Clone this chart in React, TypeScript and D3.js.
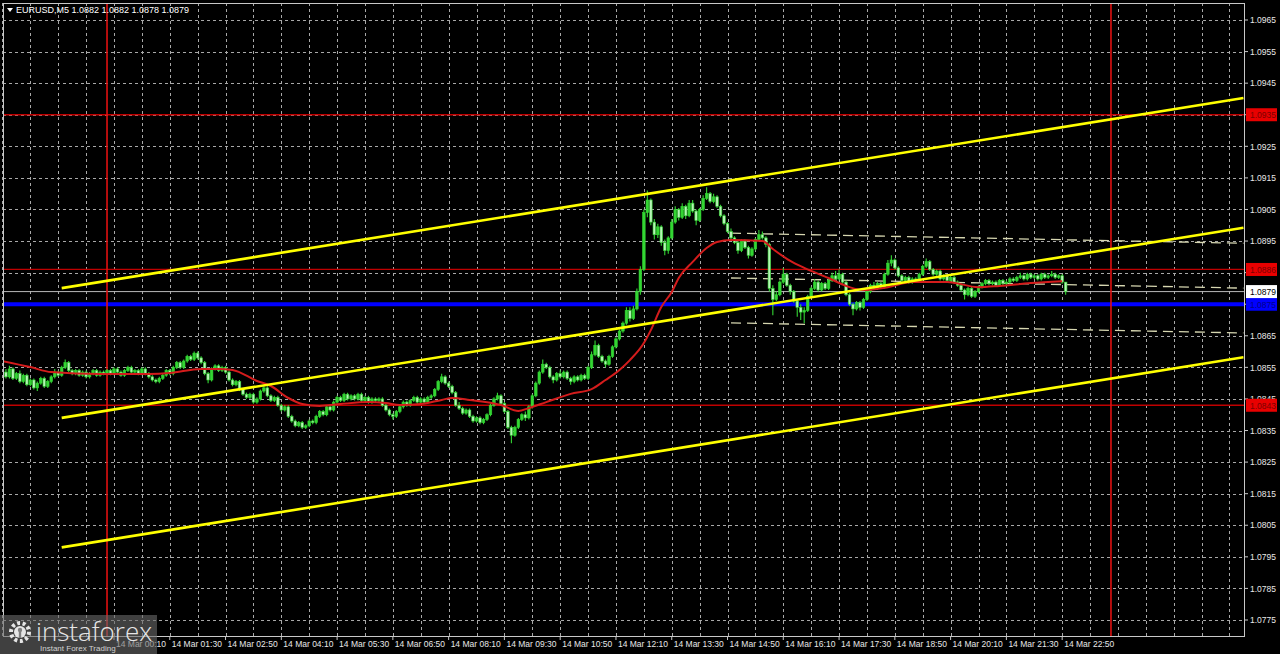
import React from "react";
import * as d3 from "d3";

// ---------- DATA ----------
const symbolTitle = "EURUSD,M5";
const titleOHLC = ["1.0882", "1.0882", "1.0878", "1.0879"];

// 5-minute bars; prices stored as pips above 1.0800
const PRICE_BASE = 1.08;
const PIP = 0.0001;
const firstBarTime = "2024-03-13T21:30:00";
const barMinutes = 5;
const firstOpenPips = 54.0;

const closePips = [
  53.5, 52.0, 54.5, 51.5, 53.0, 50.5, 52.5, 49.5, 51.0, 48.5,
  50.0, 51.5, 49.0, 50.5, 52.0, 53.5, 52.5, 55.0, 56.5, 54.0,
  53.0, 54.0, 52.5, 53.5, 52.0, 53.0, 54.0, 52.5, 53.5, 53.0,
  54.0, 53.0, 54.5, 53.5, 52.5, 54.0, 55.0, 53.5, 54.0, 53.0,
  54.5, 53.0, 52.0, 51.0, 50.5, 51.5, 52.5, 54.0, 53.0, 55.0,
  56.5, 55.0, 57.0, 58.5, 57.5, 59.5, 58.0, 56.5, 53.0, 51.0,
  54.5, 55.5, 54.0, 55.0, 53.5, 51.0, 49.5, 50.5, 48.0, 46.5,
  45.5, 46.5, 44.0, 45.0, 47.5, 48.5, 46.0, 44.5, 45.5, 43.0,
  41.5, 42.5, 39.5, 38.0, 36.5, 37.5, 36.0, 36.5, 38.0, 37.5,
  39.5, 41.0, 40.0, 42.5, 41.5, 44.0, 45.5, 44.5, 46.5, 45.0,
  46.0, 45.0, 46.5, 44.5, 45.5, 44.0, 45.0, 44.5, 45.0, 43.0,
  41.5, 40.0, 39.5, 41.0, 42.5, 44.0, 43.0, 44.5, 45.5, 44.0,
  45.0, 44.0, 45.5, 46.0, 48.0, 50.5, 52.0, 50.0, 49.0, 47.0,
  43.0, 42.0, 40.5, 41.5, 39.5, 38.0, 39.0, 37.5, 38.5, 40.0,
  43.0, 45.0, 46.0, 43.5, 41.0, 36.0, 33.5, 36.0, 38.5, 40.0,
  39.0, 42.5, 46.0, 50.0, 53.5, 56.0, 55.0, 52.0, 51.0, 53.0,
  52.0, 53.5, 51.5, 50.5, 52.0, 51.0, 52.5, 51.5, 55.0, 59.0,
  62.0, 58.5, 57.0, 56.0, 58.5, 61.5, 64.0, 66.5, 69.0, 73.0,
  70.5, 73.5, 79.0, 86.0, 104.0, 108.0, 101.0, 97.0, 99.5, 94.5,
  92.0, 96.0, 101.0, 105.0, 102.5, 106.0, 103.0, 107.0, 104.5, 101.5,
  105.0, 108.5, 110.0, 107.5, 109.0, 106.0, 103.0, 100.5, 98.0, 96.0,
  94.5, 92.0, 95.0, 93.0, 90.5, 92.5, 95.5, 97.0, 96.0, 94.0,
  80.0, 76.5, 78.0, 82.0, 84.5, 81.0, 79.0, 76.0, 74.0, 72.5,
  73.0, 77.5, 80.0, 82.0, 79.5, 81.5, 80.0, 82.5, 84.0, 83.0,
  84.5, 82.0, 78.0, 75.0, 73.5, 75.5, 74.0, 76.5, 79.0, 81.0,
  80.0, 81.5, 80.5, 84.5, 88.0, 89.0, 86.5, 84.0, 82.5, 83.5,
  82.0, 83.0, 82.5, 84.5, 87.0, 88.5, 86.0, 84.5, 85.5, 83.0,
  84.0, 82.5, 83.5, 82.0, 81.0, 79.5, 78.0, 80.0, 77.5, 79.0,
  80.5, 81.5, 82.5, 81.5, 82.0, 81.0, 82.5, 81.5, 82.0, 83.0,
  82.5, 83.5, 84.0, 83.0, 84.5, 83.5, 84.0, 83.0, 84.5, 83.5,
  84.0, 84.5, 83.5, 84.0, 82.0, 79.0,
];

const highPips = [
  55.0, 54.5, 55.5, 55.0, 53.5, 54.0, 53.0, 53.0, 51.5, 51.5,
  50.5, 52.0, 52.0, 51.0, 52.5, 54.5, 54.0, 55.5, 57.5, 57.0,
  54.5, 54.5, 54.5, 54.0, 54.0, 53.5, 54.5, 54.5, 54.0, 54.0,
  54.5, 54.5, 55.0, 55.0, 54.0, 54.5, 55.5, 55.5, 54.5, 54.5,
  55.0, 55.0, 53.5, 52.5, 51.5, 52.0, 53.0, 54.5, 54.5, 55.5,
  57.0, 57.0, 57.5, 59.0, 59.0, 60.0, 60.0, 58.5, 57.0, 53.5,
  55.0, 56.0, 56.0, 55.5, 55.5, 54.0, 51.5, 51.0, 51.0, 48.5,
  47.0, 47.0, 47.0, 45.5, 48.0, 49.5, 49.0, 46.5, 46.0, 46.0,
  43.5, 43.0, 43.0, 40.0, 38.5, 38.0, 38.0, 37.0, 38.5, 38.5,
  40.0, 41.5, 41.5, 43.0, 43.0, 44.5, 46.0, 46.0, 47.0, 47.0,
  46.5, 46.5, 47.0, 47.0, 46.0, 46.0, 45.5, 45.5, 45.5, 45.5,
  43.5, 42.0, 40.5, 41.5, 43.0, 44.5, 44.5, 45.0, 46.0, 46.0,
  45.5, 45.5, 46.0, 46.5, 48.5, 51.0, 53.0, 52.5, 50.5, 49.5,
  47.5, 44.0, 42.5, 42.0, 42.0, 40.0, 39.5, 39.5, 39.0, 40.5,
  43.5, 45.5, 47.0, 46.5, 44.0, 41.5, 36.5, 36.5, 39.0, 40.5,
  41.0, 43.0, 46.5, 50.5, 54.0, 57.5, 56.5, 55.5, 52.5, 53.5,
  54.0, 54.0, 54.0, 52.0, 52.5, 52.5, 53.0, 53.0, 55.5, 60.0,
  63.5, 62.5, 59.0, 57.5, 59.0, 62.0, 64.5, 67.0, 69.5, 74.0,
  74.0, 74.5, 80.0, 87.0, 105.0, 111.0, 108.5, 102.0, 100.5, 100.0,
  95.5, 96.5, 102.0, 106.0, 105.5, 107.0, 106.5, 108.0, 108.0, 105.0,
  105.5, 109.5, 112.0, 110.5, 110.0, 109.5, 106.5, 103.5, 101.0, 99.0,
  96.5, 95.0, 95.5, 95.5, 93.5, 93.0, 96.0, 98.5, 98.0, 96.5,
  94.5, 81.0, 79.0, 82.5, 86.5, 85.0, 81.5, 79.5, 76.5, 75.0,
  74.0, 78.0, 80.5, 83.0, 82.5, 82.0, 82.0, 83.0, 85.0, 85.5,
  86.0, 85.0, 82.5, 78.5, 75.5, 76.0, 76.0, 77.0, 79.5, 81.5,
  82.0, 82.0, 82.0, 85.0, 89.0, 90.5, 89.5, 87.0, 84.5, 84.0,
  84.0, 83.5, 83.5, 85.0, 87.5, 89.5, 89.0, 86.5, 86.0, 86.0,
  84.5, 84.5, 84.0, 84.0, 82.5, 81.5, 80.0, 80.5, 80.5, 79.5,
  81.0, 82.0, 83.0, 83.0, 82.5, 82.5, 83.0, 83.0, 82.5, 83.5,
  83.5, 84.0, 85.0, 84.5, 85.0, 85.0, 84.5, 84.5, 85.0, 85.0,
  84.5, 85.5, 85.0, 84.5, 84.5, 82.0,
];

const lowPips = [
  53.0, 51.5, 51.5, 51.0, 51.0, 50.0, 50.0, 49.0, 49.0, 48.0,
  47.5, 49.5, 48.5, 48.5, 50.0, 51.5, 52.0, 52.0, 54.5, 53.5,
  52.5, 52.5, 52.0, 52.0, 51.5, 51.5, 52.5, 52.0, 52.0, 52.5,
  52.5, 52.5, 52.5, 53.0, 52.0, 52.0, 53.5, 53.0, 53.0, 52.5,
  52.5, 52.5, 51.5, 50.5, 50.0, 50.0, 51.0, 52.0, 52.5, 52.5,
  54.5, 54.5, 54.5, 56.5, 57.0, 57.0, 57.5, 56.0, 52.5, 50.0,
  50.5, 54.0, 53.5, 53.5, 53.0, 50.5, 49.0, 49.0, 47.5, 46.0,
  45.0, 45.0, 43.5, 43.5, 44.5, 47.0, 45.5, 44.0, 44.0, 42.5,
  41.0, 41.0, 39.0, 37.5, 36.0, 36.0, 35.5, 35.5, 36.0, 37.0,
  37.0, 39.0, 39.5, 39.5, 41.0, 41.0, 43.5, 44.0, 44.0, 44.5,
  44.5, 44.5, 44.5, 44.0, 44.0, 43.5, 43.5, 44.0, 44.0, 42.5,
  41.0, 39.5, 38.5, 39.0, 40.5, 42.0, 42.5, 42.5, 44.0, 43.5,
  43.5, 43.5, 43.5, 45.0, 45.5, 47.5, 50.0, 49.5, 48.5, 46.5,
  42.5, 41.5, 40.0, 40.0, 39.0, 37.5, 37.5, 37.0, 37.0, 38.0,
  39.5, 42.5, 44.5, 43.0, 40.5, 35.5, 31.0, 33.0, 35.5, 38.0,
  38.0, 38.5, 42.0, 45.5, 49.5, 53.0, 54.5, 51.5, 50.0, 50.5,
  51.5, 51.5, 51.0, 49.5, 50.0, 50.5, 50.5, 51.0, 51.0, 54.5,
  58.5, 58.0, 56.5, 55.0, 55.5, 58.0, 61.0, 63.5, 66.0, 68.5,
  69.5, 70.0, 73.0, 78.0, 85.5, 102.5, 100.0, 95.5, 96.0, 93.5,
  90.5, 91.0, 95.5, 100.5, 101.5, 102.0, 102.0, 102.5, 104.0, 100.0,
  101.0, 104.5, 108.0, 107.0, 107.0, 105.5, 102.5, 100.0, 97.5, 95.0,
  94.0, 91.0, 91.5, 92.5, 89.5, 90.0, 92.0, 95.0, 95.5, 93.0,
  79.0, 71.5, 76.0, 77.5, 81.5, 80.5, 78.0, 75.5, 71.0, 70.0,
  69.0, 72.5, 77.0, 79.5, 79.0, 79.0, 79.5, 79.5, 82.0, 82.5,
  82.5, 81.5, 77.5, 74.5, 71.5, 73.0, 73.0, 73.5, 76.0, 78.5,
  79.5, 79.5, 80.0, 80.0, 84.0, 87.0, 86.0, 83.5, 82.0, 82.0,
  81.5, 81.5, 82.0, 82.0, 84.0, 86.5, 85.5, 84.0, 84.0, 82.5,
  82.5, 82.0, 82.0, 81.5, 80.5, 79.0, 76.5, 77.5, 77.0, 77.0,
  78.5, 80.0, 81.0, 81.0, 81.0, 80.5, 80.5, 81.0, 81.0, 81.5,
  82.0, 82.0, 83.0, 82.5, 82.5, 83.0, 83.0, 82.5, 82.5, 83.0,
  83.0, 83.5, 83.0, 83.0, 81.5, 78.0,
];

// Moving average (red) read at bar positions counted from 14 Mar 00:00
const maDayStart = "2024-03-14T00:00:00";
const maBarIndex = [
  -30, -22, -16, -2, 12, 18, 27, 32, 36, 43, 47, 52, 56, 61, 67, 75, 80, 84, 90, 96,
  99, 104, 113, 118, 121, 126, 133, 139, 143, 147, 150, 154, 156, 159, 162, 164, 168,
  172, 175, 179, 188, 191, 196, 200, 207, 213, 217, 224, 231, 241, 250, 256, 265, 274,
];
const maPips = [
  57.0, 55.1, 53.5, 52.9, 52.9, 53.2, 54.5, 54.5, 54.2, 50.7, 49.1, 45.3, 43.4, 42.8, 43.4, 44.0, 43.7, 43.1, 43.4, 44.7,
  45.3, 44.7, 43.1, 41.2, 42.1, 44.0, 46.6, 48.1, 51.0, 54.2, 57.3, 62.7, 66.8, 74.1, 78.9, 83.3, 88.4,
  92.8, 94.7, 95.3, 95.0, 92.5, 88.7, 86.5, 83.3, 80.4, 79.5, 80.4, 82.0, 82.0, 80.4, 80.8, 81.7, 82.3,
];

const priceTicks = [
  1.0775, 1.0785, 1.0795, 1.0805, 1.0815, 1.0825, 1.0835, 1.0845, 1.0855, 1.0865,
  1.0875, 1.0885, 1.0895, 1.0905, 1.0915, 1.0925, 1.0935, 1.0945, 1.0955, 1.0965,
];
const timeTicks = [
  "2024-03-14T00:10", "2024-03-14T01:30", "2024-03-14T02:50",
  "2024-03-14T04:10", "2024-03-14T05:30", "2024-03-14T06:50", "2024-03-14T08:10",
  "2024-03-14T09:30", "2024-03-14T10:50", "2024-03-14T12:10", "2024-03-14T13:30",
  "2024-03-14T14:50", "2024-03-14T16:10", "2024-03-14T17:30", "2024-03-14T18:50",
  "2024-03-14T20:10", "2024-03-14T21:30", "2024-03-14T22:50",
];
const dayLines = ["2024-03-14T00:00", "2024-03-15T00:00"];
const redLevels = [1.0935, 1.0886, 1.0843];
const blueLevel = 1.0875;
const lastPrice = 1.0879;

const channelTimes = ["2024-03-13T22:55", "2024-03-15T03:10"];
const channelUpper = [1.08801, 1.09403];
const channelMiddle = [1.0839, 1.08992];
const channelLower = [1.0798, 1.08582];

const regTimes = ["2024-03-14T14:55", "2024-03-15T03:10"];
const regUpper = [1.08975, 1.08943];
const regMiddle = [1.08833, 1.08801];
const regLower = [1.08691, 1.08659];

// ---------- CHART ----------
const W = 1280;
const H = 654;
const L = 3, R = 1244, T = 3, B = 636;
const FONT = "'Liberation Sans', Arial, sans-serif";

export default function App() {
  const x = d3
    .scaleTime()
    .domain([new Date("2024-03-13T21:30:48"), new Date("2024-03-15T03:10:48")])
    .range([L, R]);
  const y = d3.scaleLinear().domain([1.0775, 1.0965]).range([620, 20]);

  const start = new Date(firstBarTime);
  const bars = closePips.map((c, i) => {
    const o = i === 0 ? firstOpenPips : closePips[i - 1];
    return {
      t: d3.timeMinute.offset(start, i * barMinutes),
      o: PRICE_BASE + o * PIP,
      c: PRICE_BASE + c * PIP,
      h: PRICE_BASE + highPips[i] * PIP,
      l: PRICE_BASE + lowPips[i] * PIP,
    };
  });

  const day0 = new Date(maDayStart);
  const maPts = maBarIndex.map((b, i) => ({
    t: d3.timeMinute.offset(day0, b * barMinutes),
    v: PRICE_BASE + maPips[i] * PIP,
  }));
  const maLine = d3
    .line<{ t: Date; v: number }>()
    .x((d) => x(d.t))
    .y((d) => y(d.v))
    .curve(d3.curveMonotoneX);

  const gridTimes: Date[] = [];
  for (let k = 0; k < 60; k++) {
    const t = d3.timeMinute.offset(start, k * 40);
    if (x(t) > R) break;
    gridTimes.push(t);
  }

  const fmt = d3.timeFormat("%d %b %H:%M");
  const seg = (times: string[], vals: number[]) => ({
    x1: x(new Date(times[0])),
    y1: y(vals[0]),
    x2: x(new Date(times[1])),
    y2: y(vals[1]),
  });
  const channels = [channelUpper, channelMiddle, channelLower].map((v) => seg(channelTimes, v));
  const regs = [regUpper, regMiddle, regLower].map((v) => seg(regTimes, v));

  const green = "#33d633";
  const gridColor = "#a8a8a8";
  const boxLevels = [...redLevels, blueLevel, lastPrice];
  const hiddenTick = (p: number) => boxLevels.some((l) => Math.abs(y(l) - y(p)) < 4);

  const levelBox = (p: number, fill: string, text: string, key: string) => (
    <g key={key}>
      <rect x={R + 2} y={y(p) - 6.5} width={31} height={13} fill={fill} />
      <text x={R + 6} y={y(p) + 3.5} fontSize={8.5} fill={text} fontFamily={FONT}>
        {p.toFixed(4)}
      </text>
    </g>
  );

  return (
    <svg
      width={W}
      height={H}
      style={{ position: "fixed", left: 0, top: 0, background: "#000" }}
    >
      <rect x={0} y={0} width={W} height={H} fill="#000" />
      <defs>
        <clipPath id="plot">
          <rect x={L} y={T} width={R - L} height={B - T} />
        </clipPath>
      </defs>

      {/* grid */}
      <g stroke={gridColor} strokeWidth={1} strokeDasharray="3,3" shapeRendering="crispEdges">
        {priceTicks.map((p) => (
          <line key={"h" + p} x1={L} x2={R} y1={Math.round(y(p)) + 0.5} y2={Math.round(y(p)) + 0.5} />
        ))}
        {gridTimes.map((t) => (
          <line key={"v" + +t} x1={Math.round(x(t)) + 0.5} x2={Math.round(x(t)) + 0.5} y1={T} y2={B} />
        ))}
      </g>

      <g clipPath="url(#plot)">
        {/* level lines */}
        {redLevels.map((p) => (
          <line key={"r" + p} x1={L} x2={R} y1={y(p)} y2={y(p)} stroke="#c00000" strokeWidth={1.3} />
        ))}
        <line x1={L} x2={R} y1={y(lastPrice)} y2={y(lastPrice)} stroke="#b8b8b8" strokeWidth={1} />
        <line x1={L} x2={R} y1={y(blueLevel)} y2={y(blueLevel)} stroke="#0000ff" strokeWidth={4} />

        {/* day separators */}
        {dayLines.map((d) => (
          <line key={d} x1={x(new Date(d))} x2={x(new Date(d))} y1={T} y2={B} stroke="#e01010" strokeWidth={1.6} />
        ))}

        {/* regression channel (dashed) */}
        {regs.map((s, i) => (
          <line
            key={"reg" + i}
            {...s}
            stroke="#d6d6b0"
            strokeWidth={1.3}
            strokeDasharray="10,6"
          />
        ))}

        {/* candles */}
        {bars.map((b, i) => {
          const cx = x(b.t);
          const top = y(Math.max(b.o, b.c));
          const bot = y(Math.min(b.o, b.c));
          const bear = b.c < b.o;
          return (
            <g key={i}>
              <line x1={cx} x2={cx} y1={y(b.h)} y2={y(b.l)} stroke={green} strokeWidth={1.1} />
              <rect
                x={cx - 1.3}
                y={top}
                width={2.6}
                height={Math.max(1, bot - top)}
                fill={bear ? "#b6f3b6" : green}
                stroke={green}
                strokeWidth={0.6}
              />
            </g>
          );
        })}

        {/* moving average */}
        <path d={maLine(maPts) || ""} fill="none" stroke="#d41c1c" strokeWidth={2} />

        {/* yellow channel */}
        {channels.map((s, i) => (
          <line key={"ch" + i} {...s} stroke="#ffff00" strokeWidth={2.6} />
        ))}
      </g>

      {/* frame */}
      <rect x={L + 0.5} y={T + 0.5} width={R - L} height={B - T} fill="none" stroke="#c8c8c8" strokeWidth={1} />

      {/* price axis */}
      {priceTicks.map((p) => (
        <g key={"pt" + p}>
          <line x1={R} x2={R + 4} y1={y(p)} y2={y(p)} stroke="#c8c8c8" />
          {!hiddenTick(p) && (
            <text x={R + 6} y={y(p) + 3.2} fontSize={8.5} fill="#e8e8e8" fontFamily={FONT}>
              {p.toFixed(4)}
            </text>
          )}
        </g>
      ))}

      {/* time axis */}
      {timeTicks.map((s) => {
        const t = new Date(s);
        return (
          <g key={s}>
            <line x1={x(t)} x2={x(t)} y1={B} y2={B + 4} stroke="#c8c8c8" />
            <text x={x(t) + 2} y={B + 11} fontSize={8.5} fill="#e8e8e8" fontFamily={FONT}>
              {fmt(t)}
            </text>
          </g>
        );
      })}

      {/* level labels */}
      {redLevels.map((p) => levelBox(p, "#e80000", "#7a0000", "lb" + p))}
      {levelBox(blueLevel, "#0000ff", "#00008a", "lbb")}
      {levelBox(lastPrice, "#ffffff", "#000000", "lbl")}

      {/* title */}
      <path d="M7,8 L13,8 L10,12 Z" fill="#ffffff" />
      <text x={16} y={13} fontSize={9} fill="#ffffff" fontFamily={FONT}>
        {symbolTitle + "  " + titleOHLC.join(" ")}
      </text>

      {/* logo */}
      <g>
        <rect x={0} y={615} width={157} height={39} fill="#6a6a6a" opacity={0.6} />
        <g transform="translate(20,632)" fill="#e6e6e6">
          <circle r={9} fill="none" stroke="#e6e6e6" strokeWidth={4} strokeDasharray="3,2.6" />
          <circle r={6} fill="#e6e6e6" />
          <circle cx={0} cy={-2} r={2.2} fill="#808080" />
          <rect x={-1.2} y={0} width={2.4} height={6} fill="#808080" />
        </g>
        <text x={36} y={641} fontSize={26} fill="#e6e6e6" fontFamily="'Open Sans', sans-serif" fontWeight={300}>
          instaforex
        </text>
        <text x={40} y={651} fontSize={8} fill="#d0d0d0" fontFamily={FONT}>
          Instant Forex Trading
        </text>
      </g>
    </svg>
  );
}
